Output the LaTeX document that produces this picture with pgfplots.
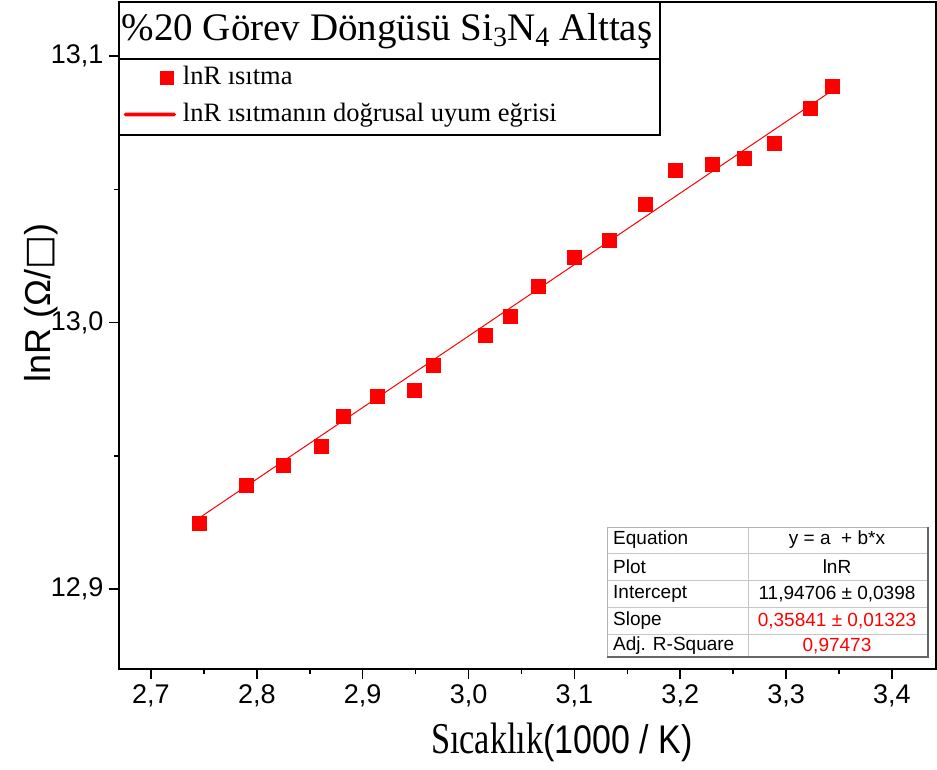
\documentclass[border=0pt]{standalone}
\usepackage{fontspec}
\setmainfont{Liberation Serif}
\setsansfont{Liberation Sans}
\newfontfamily\arial{Liberation Sans}
\newfontfamily\dejavu{DejaVu Sans}
\usepackage{pgfplots}
\pgfplotsset{compat=1.18}

% lnR heating data (x = 1000/K, y = lnR)
\pgfplotstableread{
x      y
2.746  12.9246
2.790  12.9388
2.825  12.9463
2.861  12.9535
2.882  12.9650
2.914  12.9722
2.949  12.9747
2.967  12.9839
3.016  12.9951
3.039  13.0023
3.066  13.0135
3.100  13.0244
3.133  13.0308
3.167  13.0443
3.195  13.0570
3.230  13.0593
3.260  13.0615
3.289  13.0675
3.323  13.0803
3.344  13.0886
}\lnRdata

\begin{document}
\begin{tikzpicture}[x=1pt,y=1pt]
\useasboundingbox (-119,-100) rectangle (818,669);
\begin{axis}[
  at={(0,0)}, anchor=south west,
  scale only axis, width=817pt, height=667pt,
  xmin=2.6698, xmax=3.4416, ymin=12.87, ymax=13.1203,
  axis line style={line width=1.6pt},
  xtick={2.7,2.8,2.9,3.0,3.1,3.2,3.3,3.4},
  ytick={12.9,13.0,13.1},
  minor x tick num=1, minor y tick num=1,
  tick align=outside, xtick pos=bottom, ytick pos=left,
  major tick length=10pt, minor tick length=5pt,
  every tick/.style={line width=1.6pt, black},
  /pgf/number format/.cd, use comma, fixed, fixed zerofill, precision=1,
    assume math mode=true, /pgfplots/.cd,
  ticklabel style={font=\arial\fontsize{27}{30}\selectfont},
  xticklabel style={yshift=-2pt},
  yticklabel style={xshift=-2pt},
  xlabel={\fontsize{44}{48}\selectfont\scalebox{0.78}[1]{Sıcaklık}{\arial\fontsize{40}{44}\selectfont\scalebox{0.85}[1]{(1000 / K)}}},
  xlabel style={at={(axis description cs:0.5422,-0.1094)}, anchor=center, inner sep=0pt},
  ylabel={\arial\fontsize{36}{40}\selectfont lnR ({\arial Ω}/{\dejavu □})},
  ylabel style={at={(axis description cs:-0.0955,0.5487)}, anchor=center, inner sep=0pt},
  legend style={draw=none, fill=none, inner sep=0pt, outer sep=0pt,
    at={(axis description cs:0.006,0.907)}, anchor=north west,
    row sep=10pt, column sep=7pt,
    nodes={inner sep=0pt, text height=20pt, text depth=7pt},
    font=\fontsize{26.5}{30}\selectfont},
  legend cell align=left,
]
\addplot[only marks, mark=square*, mark size=7pt, color=red,
  legend image code/.code={\path[draw=none, fill=none] (0pt,-7pt) rectangle (52pt,7pt);
    \fill[red, draw=none] (36pt,-7pt) rectangle (50pt,7pt);}]
  table[x=x, y=y] {\lnRdata};
\addlegendentry{lnR ısıtma}
\addplot[red, line width=1pt,
  legend image code/.code={\path[draw=none, fill=none] (0pt,-7pt) rectangle (52pt,7pt);
    \fill[red, draw=none, rounded corners=1.5pt] (0pt,-1.8pt) rectangle (52pt,1.8pt);}]
  coordinates {(2.746,12.9268) (3.344,13.0872)};
\addlegendentry{lnR ısıtmanın doğrusal uyum eğrisi}
\end{axis}
% legend frame with title
\draw[line width=1.3pt] (0,534) rectangle (541,667);
\draw[line width=1.3pt] (0,610) -- (541,610);
\node[anchor=center, inner sep=0pt] at (268,638)
  {\fontsize{39}{42}\selectfont \%20 Görev Döngüsü Si\raisebox{-0.15em}{\fontsize{28}{30}\selectfont 3}N\raisebox{-0.15em}{\fontsize{28}{30}\selectfont 4} Alttaş};
% fit parameter table
\begin{scope}[font=\arial\fontsize{19}{22}\selectfont]
\fill[white] (488,12) rectangle (809,142);
\draw[gray!45, line width=0.8pt] (488,116) -- (809,116) (488,89) -- (809,89)
  (488,62) -- (809,62) (488,35) -- (809,35) (629,12) -- (629,142);
\draw[gray!60, line width=1pt] (488,12) -- (488,142) -- (809,142);
\draw[gray!80!black, line width=2pt] (488,12) -- (809,12) -- (809,142);
\node[anchor=west, inner sep=0pt] at (494,129) {Equation};
\node[anchor=west, inner sep=0pt] at (494,102) {Plot};
\node[anchor=west, inner sep=0pt] at (494,75) {Intercept};
\node[anchor=west, inner sep=0pt] at (494,48) {Slope};
\node[anchor=west, inner sep=0pt] at (494,23) {Adj. R-Square};
\node[inner sep=0pt] at (718,129) {y = a \ + b*x};
\node[inner sep=0pt] at (718,102) {lnR};
\node[inner sep=0pt] at (718,75) {11,94706 ± 0,0398};
\node[inner sep=0pt, red] at (718,48) {0,35841 ± 0,01323};
\node[inner sep=0pt, red] at (718,23) {0,97473};
\end{scope}
\end{tikzpicture}
\end{document}
